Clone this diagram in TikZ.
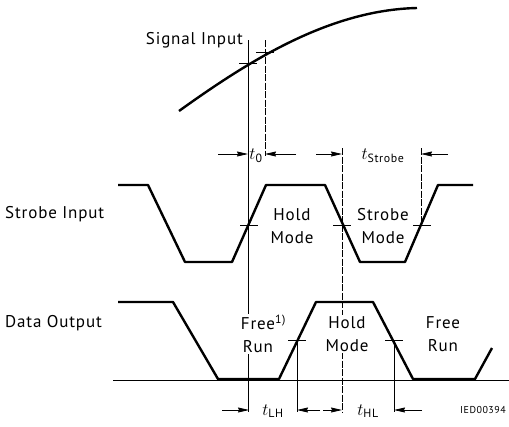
\documentclass[tikz,border=0pt]{standalone}
\usepackage{fontspec}
\setmainfont[LetterSpace=5]{PT Sans}
\usetikzlibrary{arrows.meta}
\begin{document}
\begin{tikzpicture}[x=1pt,y=-1pt,
  wave/.style={line width=2.4pt,line join=round},
  thinl/.style={line width=0.7pt},
  dashl/.style={line width=0.7pt,dash pattern=on 7pt off 1.5pt},
  dimarr/.style={line width=0.8pt,-{Stealth[length=11pt,width=5pt,inset=1pt]}},
  lbl/.style={font=\fontsize{17}{23}\selectfont,inner sep=1pt},
  modetxt/.style={lbl,align=center,fill=white,inner sep=1.5pt},
  tick/.style={line width=0.7pt}]
\useasboundingbox (0,0) rectangle (509,426);
% labels
\node[lbl,anchor=east] (sig) at (244,40) {Signal Input};
\node[lbl,anchor=west] (stri) at (4,214) {Strobe Input};
\node[lbl,anchor=west] (dout) at (4,323) {Data Output};
% vertical reference lines
\coordinate (a1) at (248,40); \coordinate (a2) at (248,412);
\coordinate (b1) at (265,40); \coordinate (b2) at (265,156);
\coordinate (c1) at (342,148); \coordinate (c2) at (342,412);
\coordinate (d1) at (421,148); \coordinate (d2) at (421,226);
\coordinate (e1) at (297,340); \coordinate (e2) at (297,412);
\coordinate (f1) at (394,340); \coordinate (f2) at (394,412);
\draw[thinl] (a1) -- (a2);
\draw[dashl] (b1) -- (b2);
\draw[dashl] (c1) -- (c2);
\draw[dashl] (d1) -- (d2);
\draw[thinl] (e1) -- (e2);
\draw[thinl] (f1) -- (f2);
% baseline
\coordinate (bl1) at (113,380); \coordinate (bl2) at (509,380);
\draw[thinl] (bl1) -- (bl2);
% signal curve
\draw[wave] (179,111) .. controls (250,60) and (330,10) .. (417,8);
% strobe input
\draw[wave] (118,185) -- (148,185) -- (185,262) -- (232,262) -- (266,185) -- (325,185)
  -- (360,262) -- (405,262) -- (438,185) -- (473,185);
% data output
\draw[wave] (118,302) -- (173,302) -- (218,379) -- (279,379) -- (316,302) -- (373,302)
  -- (413,379) -- (475,379) -- (492,348);
% crossing ticks
\foreach \x/\y in {248/63,265/52,249/225,342/225,422/225,297/340,394/340}
  \draw[tick] (\x-9,\y) -- (\x+9,\y);
% mode texts
\node[modetxt] (hold1) at (292,226) {Hold\\Mode};
\node[modetxt] (strm) at (383,226) {Strobe\\Mode};
\node[modetxt] (free1) at (258,334) {Free\rlap{\textsuperscript{1)}}\\Run};
\node[modetxt] (hold2) at (347,334) {Hold\\Mode};
\node[modetxt] (free2) at (443,334) {Free\\Run};
% dimension arrows
\coordinate (t0l) at (218,154); \coordinate (t0a) at (248,154);
\coordinate (t0r) at (296,154); \coordinate (t0b) at (265,154);
\draw[dimarr] (t0l) -- (t0a);
\draw[dimarr] (t0r) -- (t0b);
\node[lbl] (t0) at (256,156) {$t$\textsubscript{0}};
\coordinate (tsl) at (316,154); \coordinate (tsa) at (342,154);
\coordinate (tsr) at (448,154); \coordinate (tsb) at (421,154);
\draw[dimarr] (tsl) -- (tsa);
\draw[dimarr] (tsr) -- (tsb);
\node[lbl] (ts) at (383,156) {$t$\textsubscript{Strobe}};
\coordinate (lhl) at (222,410); \coordinate (lha) at (249,410);
\coordinate (lhr) at (320,410); \coordinate (lhb) at (297,410);
\draw[dimarr] (lhl) -- (lha);
\draw[dimarr] (lhr) -- (lhb);
\node[lbl] (tlh) at (273,411) {$t$\textsubscript{LH}};
\coordinate (hll) at (323,410); \coordinate (hla) at (342,410);
\coordinate (hlr) at (422,410); \coordinate (hlb) at (394,410);
\draw[dimarr] (hll) -- (hla);
\draw[dimarr] (hlr) -- (hlb);
\node[lbl] (thl) at (368,411) {$t$\textsubscript{HL}};
\node[font=\fontsize{10}{12}\selectfont,anchor=east,inner sep=0pt] (ied) at (506,410) {IED00394};
\end{tikzpicture}
\end{document}
